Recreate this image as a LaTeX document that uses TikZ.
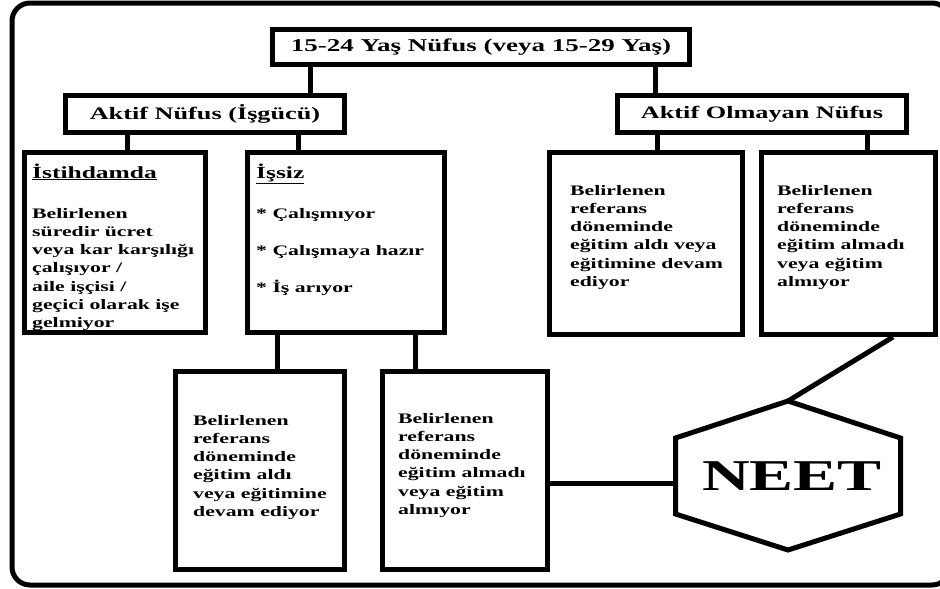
\documentclass[tikz,border=0pt]{standalone}
\usepackage{fontspec}
\setmainfont{Liberation Serif}[FakeStretch=1.5]
\usetikzlibrary{fit,calc}
\tikzset{
  box/.style={draw, line width=5pt, inner sep=0pt},
  conn/.style={line width=5pt},
  lbl/.style={inner sep=0pt, font=\bfseries\fontsize{17.5}{21}\selectfont},
  head/.style={inner sep=0pt, anchor=base west, font=\bfseries\fontsize{17}{20}\selectfont},
  body/.style={inner sep=0pt, anchor=north west, align=left, font=\bfseries\fontsize{14.5}{18.2}\selectfont},
  items/.style={inner sep=0pt, anchor=north west, align=left, font=\bfseries\fontsize{14.5}{37}\selectfont},
}
\begin{document}
\begin{tikzpicture}[x=1pt,y=-1pt]
\useasboundingbox (0,0) rectangle (940,589);
\clip (0,0) rectangle (940,589);
\fill[white] (0,0) rectangle (940,589);
% outer frame
\draw[line width=5pt, rounded corners=18pt] (12,3) rectangle (950,585);
% boxes
\node[box, fit={(272.5,29.5) (689.5,64.5)}] (top) {};
\node[box, fit={(65.5,95.5) (344.5,132.5)}] (aktif) {};
\node[box, fit={(617.5,95.5) (906.5,132.5)}] (olm) {};
\node[box, fit={(24.5,152.5) (205.5,332.5)}] (ist) {};
\node[box, fit={(247.5,152.5) (444.5,332.5)}] (iss) {};
\node[box, fit={(549.5,152.5) (742.5,334.5)}] (ra) {};
\node[box, fit={(761.5,152.5) (935.5,334.5)}] (rb) {};
\node[box, fit={(175.5,371.5) (344.5,569.5)}] (la) {};
\node[box, fit={(382.5,371.5) (547.5,569.5)}] (lb) {};
% hexagon
\coordinate (hN) at (788,401);
\coordinate (hNE) at (900.5,438);
\coordinate (hSE) at (900.5,514);
\coordinate (hS) at (788,550);
\coordinate (hSW) at (675.5,514);
\coordinate (hNW) at (675.5,438);
\draw[line width=5pt, line join=miter] (hN) -- (hNE) -- (hSE) -- (hS) -- (hSW) -- (hNW) -- cycle;
\node[inner sep=0pt, font=\bfseries\fontsize{44}{50}\selectfont] (neet) at (792,476) {NEET};
% connectors
\draw[conn] (310,0 |- top.south) -- (310,0 |- aktif.north);
\draw[conn] (655,0 |- top.south) -- (655,0 |- olm.north);
\draw[conn] (127,0 |- aktif.south) -- (127,0 |- ist.north);
\draw[conn] (298,0 |- aktif.south) -- (298,0 |- iss.north);
\draw[conn] (657,0 |- olm.south) -- (657,0 |- ra.north);
\draw[conn] (867,0 |- olm.south) -- (867,0 |- rb.north);
\draw[conn] (277,0 |- iss.south) -- (277,0 |- la.north);
\draw[conn] (415,0 |- iss.south) -- (415,0 |- lb.north);
\draw[conn] (lb.east |- 0,483) -- (hNW |- 0,483);
\draw[conn] (893,0 |- rb.south) -- (hN);
% texts
\node[lbl, font=\bfseries\fontsize{18}{21}\selectfont] (ttop) at (top.center) {15-24 Yaş Nüfus (veya 15-29 Yaş)};
\node[lbl] (taktif) at (aktif.center) {Aktif Nüfus (İşgücü)};
\node[lbl] (tolm) at (olm.center) {Aktif Olmayan Nüfus};
\node[head] (hist) at (32,178) {\underline{İstihdamda}};
\node[body] (bist) at (32,208) {Belirlenen\\süredir ücret\\veya kar karşılığı\\çalışıyor /\\aile işçisi /\\geçici olarak işe\\gelmiyor};
\node[head] (hiss) at (256,178) {\underline{İşsiz}};
\node[items] (biss) at (256,208) {* Çalışmıyor\\* Çalışmaya hazır\\* İş arıyor};
\node[body] (bra) at (570,185) {Belirlenen\\referans\\döneminde\\eğitim aldı veya\\eğitimine devam\\ediyor};
\node[body] (brb) at (777,185) {Belirlenen\\referans\\döneminde\\eğitim almadı\\veya eğitim\\almıyor};
\node[body] (bla) at (193,415) {Belirlenen\\referans\\döneminde\\eğitim aldı\\veya eğitimine\\devam ediyor};
\node[body] (blb) at (398,413) {Belirlenen\\referans\\döneminde\\eğitim almadı\\veya eğitim\\almıyor};
\end{tikzpicture}
\end{document}
